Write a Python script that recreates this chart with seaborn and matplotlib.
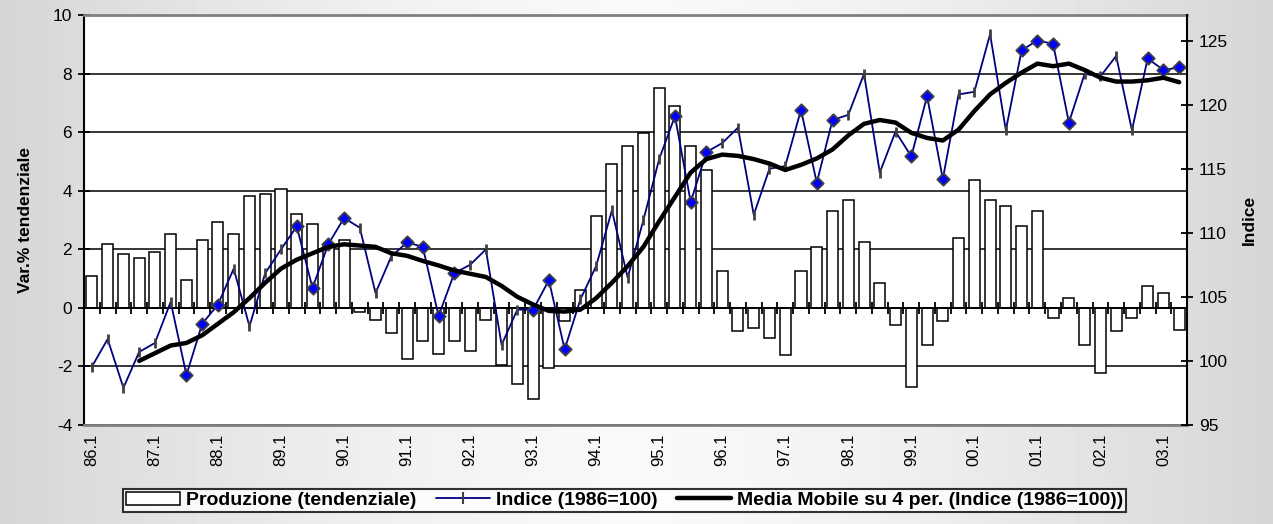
import numpy as np
import pandas as pd
import matplotlib
matplotlib.use('Agg')
import matplotlib.pyplot as plt
import seaborn as sns
from matplotlib.lines import Line2D
from matplotlib.patches import Patch

# Quarterly data 86.1 - 03.2
years = ['86', '87', '88', '89', '90', '91', '92', '93', '94', '95', '96', '97',
         '98', '99', '00', '01', '02', '03']
quarters = [y + '.' + str(q) for y in years for q in range(1, 5)][:70]

produzione = [1.10, 2.17, 1.83, 1.70, 1.91, 2.51, 0.95, 2.32, 2.93, 2.51,
              3.81, 3.88, 4.07, 3.20, 2.85, 2.15, 2.32, -0.13, -0.40, -0.86,
              -1.76, -1.13, -1.56, -1.13, -1.47, -0.40, -1.94, -2.59, -3.13, -2.04,
              -0.46, 0.62, 3.14, 4.92, 5.54, 5.98, 7.51, 6.88, 5.54, 4.71,
              1.24, -0.79, -0.68, -1.02, -1.62, 1.24, 2.06, 3.29, 3.68, 2.26,
              0.84, -0.60, -2.70, -1.28, -0.46, 2.40, 4.37, 3.68, 3.48, 2.80,
              3.29, -0.34, 0.35, -1.28, -2.24, -0.80, -0.34, 0.76, 0.49, -0.75]

indice = [99.55, 101.7, 97.9, 100.7, 101.4, 104.6, 98.9, 102.9, 104.4, 107.2,
          102.7, 106.85, 108.7, 110.5, 105.7, 109.1, 111.15, 110.4, 105.3, 108.15,
          109.25, 108.9, 103.5, 106.85, 107.5, 108.7, 101.25, 104.0, 104.0, 106.3,
          100.9, 104.8, 107.4, 111.75, 106.5, 111.0, 115.75, 119.1, 112.4, 116.3,
          117.0, 118.2, 111.4, 115.0, 115.2, 119.6, 113.9, 118.8, 119.2, 122.4,
          114.7, 117.9, 115.96, 120.65, 114.2, 120.8, 121.0, 125.5, 118.0, 124.25,
          125.0, 124.75, 118.6, 122.4, 122.2, 123.8, 118.0, 123.6, 122.7, 122.9]

media_mobile = [np.nan, np.nan, np.nan, 100.0, 100.6, 101.2, 101.4, 102.0, 102.9, 103.8,
                104.9, 106.1, 107.2, 107.9, 108.4, 108.9, 109.1, 109.0, 108.9, 108.4,
                108.2, 107.8, 107.45, 107.05, 106.8, 106.55, 105.85, 105.0, 104.4, 103.9,
                103.85, 104.0, 104.9, 106.1, 107.4, 108.9, 110.9, 112.8, 114.7, 115.75,
                116.1, 116.0, 115.75, 115.4, 114.9, 115.3, 115.8, 116.5, 117.6, 118.5,
                118.8, 118.6, 117.8, 117.4, 117.2, 118.05, 119.5, 120.8, 121.7, 122.5,
                123.2, 123.0, 123.2, 122.7, 122.1, 121.8, 121.8, 121.9, 122.1, 121.75]

# points of the index drawn with a diamond instead of the tick marker
diamond_idx = [6, 7, 8, 13, 14, 15, 16, 20, 21, 22, 23, 28, 29, 30, 37, 38, 39,
               45, 46, 47, 52, 53, 54, 59, 60, 61, 62, 67, 68, 69]

df = pd.DataFrame({'trim': quarters, 'prod': produzione,
                   'indice': indice, 'mm': media_mobile})
df['pos'] = np.arange(len(df))
df_diam = df.iloc[diamond_idx]
df_tick = df.drop(index=diamond_idx)

sns.set_style('white')
plt.rcParams['font.family'] = ['Liberation Sans', 'DejaVu Sans']
plt.rcParams['axes.unicode_minus'] = False
plt.rcParams['text.color'] = 'black'
plt.rcParams['xtick.color'] = 'black'
plt.rcParams['ytick.color'] = 'black'
plt.rcParams['axes.labelcolor'] = 'black'

fig = plt.figure(figsize=(12.73, 5.24), dpi=100)

# gray - white - gray background
bg = fig.add_axes([0, 0, 1, 1], zorder=-10)
grad = 0.975 - 0.14 * np.abs(np.linspace(-1, 1, 400)) ** 1.5
bg.imshow(grad[None, :], aspect='auto', cmap='gray', vmin=0, vmax=1,
          extent=(0, 1, 0, 1))
bg.axis('off')

ax = fig.add_axes([0.066, 0.189, 0.8665, 0.7825])
ax.set_facecolor('white')
ax.set_axisbelow(True)

sns.barplot(data=df, x='trim', y='prod', ax=ax, color='white', saturation=1,
            edgecolor='black', linewidth=1.1, width=0.7, zorder=2)
ax.set_xlim(-0.5, 69.5)
ax.set_ylim(-4, 10)
ax.set_yticks(range(-4, 11, 2))
ax.yaxis.grid(True, color='black', linewidth=1.1)
ax.xaxis.grid(False)
ax.axhline(0, color='black', linewidth=1.3, zorder=3)

xt = list(range(0, 70, 4))
ax.set_xticks(xt)
ax.set_xticklabels([quarters[i] for i in xt], rotation=90, fontsize=12)
ax.tick_params(axis='x', length=0, pad=6)
ax.tick_params(axis='y', direction='inout', length=9, width=1.3, labelsize=12.5,
               left=True, pad=4)
ax.set_xlabel('')
ax.set_ylabel('Var.% tendenziale', fontsize=12.5, fontweight='bold', labelpad=14)

# category ticks on the zero line
sec = ax.secondary_xaxis(4 / 14)
sec.set_xticks(np.arange(-0.5, 70, 1))
sec.tick_params(direction='inout', length=9, width=1.3, labelbottom=False)
sec.spines['bottom'].set_visible(False)

for s in ['top', 'bottom']:
    ax.spines[s].set_color('#808080')
    ax.spines[s].set_linewidth(2)
ax.spines['left'].set_color('black')
ax.spines['left'].set_linewidth(1.5)
ax.spines['right'].set_visible(False)

ax2 = ax.twinx()
sns.lineplot(data=df, x='pos', y='indice', ax=ax2, color='#000080', linewidth=1.3,
             zorder=4)
sns.scatterplot(data=df_tick, x='pos', y='indice', ax=ax2, marker='|', s=60,
                color='#404040', linewidth=2, zorder=5)
sns.scatterplot(data=df_diam, x='pos', y='indice', ax=ax2, marker='D', s=40,
                color='#0000ff', edgecolor='#404040', linewidth=1.3, zorder=6)
sns.lineplot(data=df, x='pos', y='mm', ax=ax2, color='black', linewidth=3.2,
             zorder=7)
ax2.set_xlim(-0.5, 69.5)
ax2.set_ylim(95, 127)
ax2.set_yticks(range(95, 126, 5))
ax2.tick_params(axis='y', direction='inout', length=9, width=1.3, labelsize=12.5,
                right=True, pad=4)
ax2.set_ylabel('Indice', fontsize=12.5, fontweight='bold', labelpad=10)
ax2.set_xlabel('')
for s in ['top', 'bottom', 'left']:
    ax2.spines[s].set_visible(False)
ax2.spines['right'].set_color('black')
ax2.spines['right'].set_linewidth(1.5)

handles = [Patch(facecolor='white', edgecolor='black', linewidth=1.1),
           Line2D([], [], color='#000080', linewidth=1.3, marker='|',
                  markersize=8, markeredgecolor='#404040', markeredgewidth=1.5),
           Line2D([], [], color='black', linewidth=3.2)]
labels = ['Produzione (tendenziale)', 'Indice (1986=100)',
          'Media Mobile su 4 per. (Indice (1986=100))']
leg = fig.legend(handles, labels, loc='lower center', bbox_to_anchor=(0.4906, 0.004),
                 ncol=3, frameon=True, fancybox=False, handlelength=2.8,
                 handletextpad=0.3, columnspacing=1.0, borderpad=0.15,
                 prop={'family': ['Liberation Sans', 'DejaVu Sans'],
                       'weight': 'bold', 'size': 14})
leg.get_frame().set_edgecolor('black')
leg.get_frame().set_linewidth(1.5)

fig.savefig('out.png', dpi=100)
